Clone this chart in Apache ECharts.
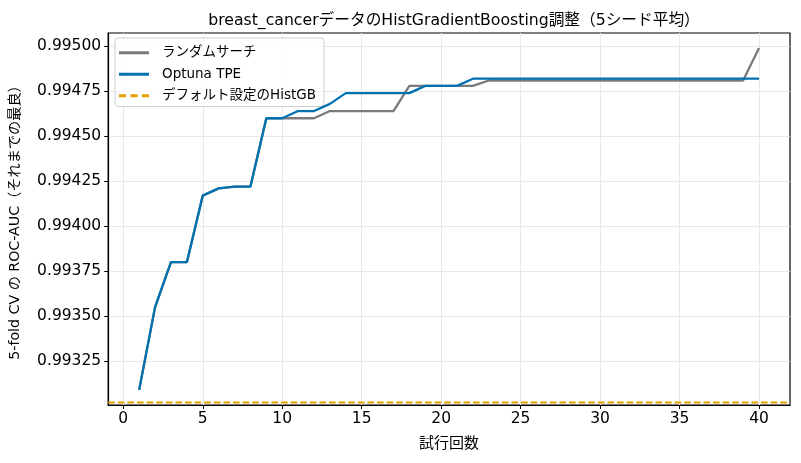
<!DOCTYPE html>
<html>
<head>
<meta charset="utf-8">
<script src="https://cdn.jsdelivr.net/npm/echarts@6/dist/echarts.min.js"></script>
<style>
  html, body { margin: 0; padding: 0; background: #fff; }
  #chart { width: 801px; height: 463px; }
</style>
</head>
<body>
<div id="chart"></div>
<script>
// Trial numbers (x axis)
const trials = [1, 2, 3, 4, 5, 6, 7, 8, 9, 10,
                11, 12, 13, 14, 15, 16, 17, 18, 19, 20,
                21, 22, 23, 24, 25, 26, 27, 28, 29, 30,
                31, 32, 33, 34, 35, 36, 37, 38, 39, 40];

// Best-so-far ROC-AUC, random search
const randomBest = [0.99309, 0.99355, 0.99380, 0.99380, 0.99417, 0.99421, 0.99422, 0.99422, 0.99460, 0.99460,
                    0.99460, 0.99460, 0.99464, 0.99464, 0.99464, 0.99464, 0.99464, 0.99478, 0.99478, 0.99478,
                    0.99478, 0.99478, 0.99481, 0.99481, 0.99481, 0.99481, 0.99481, 0.99481, 0.99481, 0.99481,
                    0.99481, 0.99481, 0.99481, 0.99481, 0.99481, 0.99481, 0.99481, 0.99481, 0.99481, 0.99499];

// Best-so-far ROC-AUC, Optuna TPE
const tpeBest = [0.99309, 0.99355, 0.99380, 0.99380, 0.99417, 0.99421, 0.99422, 0.99422, 0.99460, 0.99460,
                 0.99464, 0.99464, 0.99468, 0.99474, 0.99474, 0.99474, 0.99474, 0.99474, 0.99478, 0.99478,
                 0.99478, 0.99482, 0.99482, 0.99482, 0.99482, 0.99482, 0.99482, 0.99482, 0.99482, 0.99482,
                 0.99482, 0.99482, 0.99482, 0.99482, 0.99482, 0.99482, 0.99482, 0.99482, 0.99482, 0.99482];

// Score with default HistGB settings (horizontal reference line)
const defaultScore = 0.99302;

// Tick labels
const xTicks = [0, 5, 10, 15, 20, 25, 30, 35, 40];
const yTicks = [0.99325, 0.99350, 0.99375, 0.99400, 0.99425, 0.99450, 0.99475, 0.99500];

// axis extents (matplotlib-like margins)
const X_MIN = -0.95, X_MAX = 41.95;
const Y_MIN = 0.993006, Y_MAX = 0.995074;

const FONT = "'DejaVu Sans', 'Noto Sans CJK JP', sans-serif";
const GRAY = '#7a7a7a';
const BLUE = '#0072b2';
const ORANGE = '#e69f00';

const chart = echarts.init(document.getElementById('chart'));

const pairs = arr => trials.map((t, i) => [t, arr[i]]);

let options = {
    backgroundColor: '#fff',
    animation: false,
    textStyle: { fontFamily: FONT },
    title: {
        text: 'breast_cancerデータのHistGradientBoosting調整（5シード平均）',
        left: 449,
        textAlign: 'center',
        top: 8,
        textStyle: { fontFamily: FONT, fontSize: 15.7, fontWeight: 'normal', color: '#000' }
    },
    legend: {
        orient: 'vertical',
        left: 115,
        top: 38,
        padding: [8, 8, 4, 4],
        itemWidth: 30,
        itemHeight: 3,
        itemGap: 8,
        borderColor: '#d0d0d0',
        borderWidth: 1,
        borderRadius: 3,
        backgroundColor: 'rgba(255,255,255,0.8)',
        textStyle: { fontFamily: FONT, fontSize: 13.5, color: '#000', padding: [0, 0, 0, 8], lineHeight: 13 },
        data: [
            { name: 'ランダムサーチ', icon: 'path://M0,0h30v3h-30z' },
            { name: 'Optuna TPE', icon: 'path://M0,0h30v3h-30z' },
            { name: 'デフォルト設定のHistGB', icon: 'path://M0,0h7v3h-7zM11.5,0h7v3h-7zM23,0h7v3h-7z' }
        ]
    },
    grid: {
        left: 108, right: 11, top: 33, bottom: 58, containLabel: false,
        show: true, borderColor: '#000', borderWidth: 1.2
    },
    xAxis: {
        type: 'value',
        min: X_MIN,
        max: X_MAX,
        name: '試行回数',
        nameLocation: 'middle',
        nameGap: 32,
        nameTextStyle: { fontFamily: FONT, fontSize: 15, color: '#000' },
        axisLine: { onZero: false, lineStyle: { color: '#000', width: 1.2 } },
        axisTick: { customValues: xTicks, length: 4, lineStyle: { color: '#000' } },
        axisLabel: { customValues: xTicks, fontFamily: FONT, fontSize: 15.5, color: '#000', margin: 6 },
        splitLine: { show: true, lineStyle: { color: '#e8e8e8', width: 1 } }
    },
    yAxis: {
        type: 'value',
        min: Y_MIN,
        max: Y_MAX,
        name: '5-fold CV の ROC-AUC（それまでの最良）',
        nameLocation: 'middle',
        nameGap: 86,
        nameRotate: 90,
        nameTextStyle: { fontFamily: FONT, fontSize: 14.2, color: '#000' },
        axisLine: { show: true, onZero: false, lineStyle: { color: '#000', width: 1.2 } },
        axisTick: { show: true, customValues: yTicks, length: 4, lineStyle: { color: '#000' } },
        axisLabel: {
            customValues: yTicks,
            fontFamily: FONT, fontSize: 15.5, color: '#000', margin: 7,
            formatter: v => v.toFixed(5)
        },
        splitLine: { show: true, lineStyle: { color: '#e8e8e8', width: 1 } }
    },
    series: [
        {
            name: 'ランダムサーチ',
            type: 'line',
            data: pairs(randomBest),
            symbol: 'none',
            color: GRAY,
            lineStyle: { color: GRAY, width: 2.3 },
            z: 3
        },
        {
            name: 'Optuna TPE',
            type: 'line',
            data: pairs(tpeBest),
            symbol: 'none',
            color: BLUE,
            lineStyle: { color: BLUE, width: 2.3 },
            z: 4
        },
        {
            name: 'デフォルト設定のHistGB',
            type: 'line',
            data: [[X_MIN, defaultScore], [X_MAX, defaultScore]],
            symbol: 'none',
            color: ORANGE,
            lineStyle: { color: ORANGE, width: 1.8, type: [6.7, 2.9] },
            z: 2
        }
    ]
};

chart.setOption(options);
</script>
</body>
</html>
